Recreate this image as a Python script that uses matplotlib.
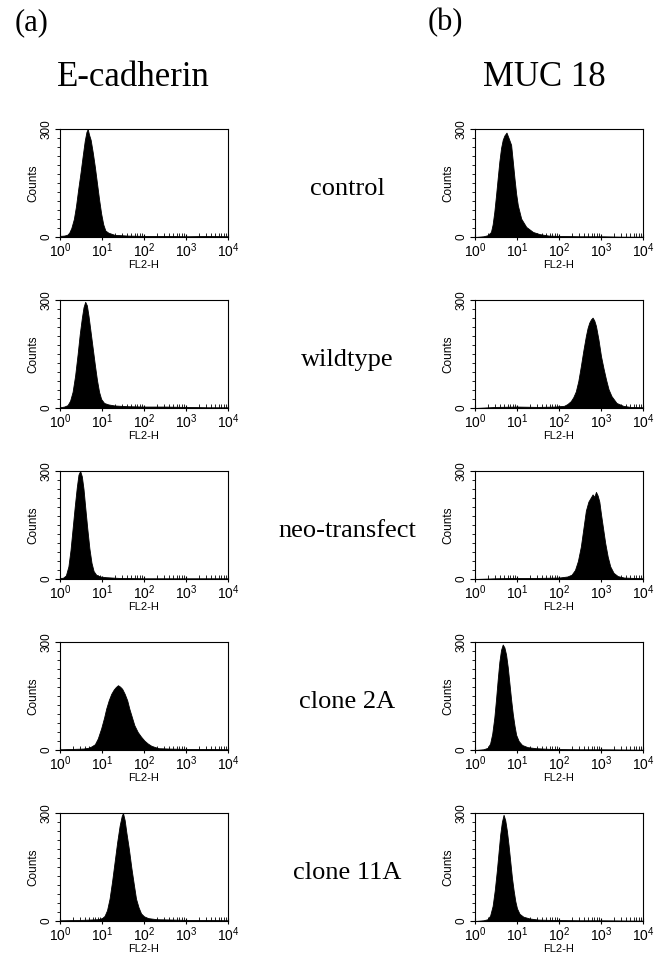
import numpy as np
import matplotlib
matplotlib.use("Agg")
import matplotlib.pyplot as plt
from matplotlib.ticker import FixedLocator, LogLocator, NullFormatter

plt.rcParams["font.family"] = ["Liberation Sans", "DejaVu Sans"]
plt.rcParams["mathtext.fontset"] = "custom"
plt.rcParams["mathtext.rm"] = "Liberation Sans"
plt.rcParams["mathtext.default"] = "regular"

SERIF = ["Liberation Serif", "DejaVu Serif"]

column_titles = ["E-cadherin", "MUC 18"]
column_tags = ["(a)", "(b)"]
row_labels = ["control", "wildtype", "neo-transfect", "clone 2A", "clone 11A"]
xtick_labels = ["10$^{0}$", "10$^{1}$", "10$^{2}$", "10$^{3}$", "10$^{4}$"]

# histogram outlines, x in decades of FL2-H, y in counts
# (a) E-cadherin
ecad_control_x = [0, 0.1, 0.17, 0.22, 0.27, 0.33, 0.38, 0.43, 0.49, 0.54, 0.59, 0.63, 0.66, 0.69,
                  0.73, 0.78, 0.83, 0.88, 0.93, 0.98, 1.03, 1.08, 1.15, 1.3, 1.6, 2.0, 2.5, 3.0, 3.5, 4.0]
ecad_control_y = [3, 4, 6, 12, 25, 50, 85, 130, 180, 225, 268, 292, 300, 285,
                  270, 235, 195, 150, 105, 65, 35, 18, 12, 6, 4, 3, 3, 2, 3, 2]

ecad_wild_x = [0, 0.1, 0.18, 0.24, 0.3, 0.36, 0.42, 0.47, 0.52, 0.56, 0.6, 0.64, 0.68, 0.73,
               0.78, 0.83, 0.88, 0.93, 0.98, 1.05, 1.15, 1.3, 1.6, 2.0, 2.5, 3.0, 3.5, 4.0]
ecad_wild_y = [2, 4, 8, 20, 45, 90, 150, 205, 250, 280, 295, 285, 255, 210,
               165, 120, 78, 45, 25, 14, 10, 7, 5, 4, 4, 3, 2, 2]

ecad_neo_x = [0, 0.08, 0.14, 0.2, 0.25, 0.3, 0.35, 0.4, 0.44, 0.48, 0.52, 0.56, 0.6, 0.65,
              0.7, 0.75, 0.8, 0.86, 0.95, 1.1, 1.4, 2.0, 2.5, 3.0, 3.5, 4.0]
ecad_neo_y = [2, 4, 10, 35, 80, 140, 200, 255, 290, 300, 285, 250, 200, 140,
              85, 45, 22, 12, 7, 5, 3, 2, 2, 2, 2, 2]

ecad_2a_x = [0, 0.3, 0.55, 0.67, 0.75, 0.83, 0.9, 0.98, 1.05, 1.1, 1.16, 1.22, 1.28, 1.33, 1.38,
             1.43, 1.48, 1.54, 1.6, 1.65, 1.71, 1.77, 1.85, 1.93, 2.01, 2.09, 2.17, 2.24, 2.35,
             2.6, 3.0, 3.5, 4.0]
ecad_2a_y = [2, 3, 4, 6, 10, 16, 32, 60, 90, 115, 138, 156, 168, 175, 180,
             176, 170, 156, 138, 115, 92, 69, 50, 37, 26, 18, 12, 9, 5,
             4, 3, 3, 2]

ecad_11a_x = [0, 0.5, 0.9, 1.0, 1.06, 1.12, 1.18, 1.24, 1.3, 1.36, 1.42, 1.47, 1.5, 1.54, 1.58,
              1.64, 1.7, 1.76, 1.81, 1.87, 1.93, 2.0, 2.1, 2.3, 2.7, 3.0, 3.5, 4.0]
ecad_11a_y = [2, 3, 5, 8, 14, 30, 62, 110, 164, 218, 265, 292, 300, 280, 246,
              200, 147, 100, 62, 38, 21, 13, 8, 5, 4, 3, 3, 2]

# (b) MUC 18
muc_control_x = [0, 0.2, 0.3, 0.38, 0.42, 0.46, 0.5, 0.54, 0.58, 0.62, 0.66, 0.7, 0.75, 0.8,
                 0.86, 0.9, 0.94, 0.98, 1.02, 1.1, 1.22, 1.38, 1.54, 1.75, 2.0, 2.5, 3.0, 3.5, 4.0]
muc_control_y = [0, 2, 5, 14, 35, 70, 115, 163, 210, 247, 270, 282, 290, 275,
                 256, 210, 163, 120, 88, 51, 28, 14, 8, 4, 3, 2, 2, 1, 1]

muc_wild_x = [0, 0.5, 1.0, 1.5, 1.9, 2.12, 2.2, 2.28, 2.34, 2.4, 2.46, 2.52, 2.58, 2.64, 2.68,
              2.72, 2.76, 2.8, 2.84, 2.88, 2.94, 3.0, 3.06, 3.12, 3.18, 3.25, 3.37, 3.53, 3.7, 4.0]
muc_wild_y = [0, 3, 4, 3, 4, 6, 11, 19, 30, 46, 75, 116, 160, 200, 222,
              237, 246, 251, 243, 228, 190, 144, 110, 79, 52, 33, 14, 6, 3, 2]

muc_neo_x = [0, 0.5, 1.0, 1.5, 2.0, 2.2, 2.3, 2.38, 2.45, 2.52, 2.58, 2.64, 2.7, 2.75,
             2.8, 2.84, 2.88, 2.92, 2.96, 3.0, 3.05, 3.1, 3.16, 3.22, 3.3, 3.4, 3.55, 4.0]
muc_neo_y = [0, 2, 3, 3, 4, 7, 12, 25, 50, 90, 140, 190, 215, 225,
             235, 228, 242, 232, 215, 180, 140, 100, 62, 35, 17, 8, 4, 2]

muc_2a_x = [0, 0.2, 0.3, 0.36, 0.41, 0.46, 0.5, 0.54, 0.58, 0.62, 0.66, 0.7, 0.74, 0.78,
            0.82, 0.86, 0.9, 0.94, 0.98, 1.04, 1.12, 1.25, 1.45, 1.8, 2.5, 3.0, 4.0]
muc_2a_y = [0, 2, 6, 18, 45, 90, 140, 195, 245, 278, 293, 285, 265, 230,
            185, 140, 100, 68, 42, 25, 14, 8, 5, 3, 2, 2, 1]

muc_11a_x = [0, 0.2, 0.3, 0.36, 0.42, 0.47, 0.52, 0.56, 0.6, 0.64, 0.68, 0.72, 0.76, 0.8,
             0.84, 0.88, 0.92, 0.96, 1.0, 1.06, 1.15, 1.3, 1.5, 1.8, 2.5, 3.0, 4.0]
muc_11a_y = [0, 2, 5, 15, 42, 85, 140, 190, 240, 275, 295, 280, 250, 210,
             165, 120, 85, 55, 35, 20, 12, 7, 4, 3, 2, 2, 1]

columns = [
    [(ecad_control_x, ecad_control_y), (ecad_wild_x, ecad_wild_y), (ecad_neo_x, ecad_neo_y),
     (ecad_2a_x, ecad_2a_y), (ecad_11a_x, ecad_11a_y)],
    [(muc_control_x, muc_control_y), (muc_wild_x, muc_wild_y), (muc_neo_x, muc_neo_y),
     (muc_2a_x, muc_2a_y), (muc_11a_x, muc_11a_y)],
]

W, H = 657, 955
fig = plt.figure(figsize=(W / 100, H / 100), dpi=100)

col_left = [60, 475]
panel_w, panel_h = 168, 108
row_bottom = [237, 408, 579, 750, 921]

for c, panels in enumerate(columns):
    for r, (xs, ys) in enumerate(panels):
        left = col_left[c] / W
        bottom = 1 - row_bottom[r] / H
        ax = fig.add_axes([left, bottom, panel_w / W, panel_h / H])
        fl2 = np.power(10.0, xs)
        ax.fill_between(fl2, 0, ys, color="black", linewidth=0.6, edgecolor="black")
        ax.set_xscale("log")
        ax.set_xlim(1, 1e4)
        ax.set_ylim(0, 300)
        ax.xaxis.set_major_locator(FixedLocator([1, 10, 100, 1000, 10000]))
        ax.set_xticklabels(xtick_labels)
        ax.xaxis.set_minor_locator(LogLocator(base=10, subs=np.arange(2, 10), numticks=20))
        ax.xaxis.set_minor_formatter(NullFormatter())
        ax.yaxis.set_major_locator(FixedLocator([0, 300]))
        ax.yaxis.set_minor_locator(FixedLocator(np.arange(25, 300, 25)))
        ax.tick_params(axis="x", which="major", direction="inout", length=5, width=0.8,
                       labelsize=10, pad=1)
        ax.tick_params(axis="x", which="minor", direction="in", length=3, width=0.6)
        ax.tick_params(axis="y", which="major", direction="out", length=3.5, width=0.8,
                       labelsize=8.5, pad=2)
        ax.tick_params(axis="y", which="minor", direction="out", length=2, width=0.6)
        for lab in ax.get_yticklabels():
            lab.set_rotation(90)
            lab.set_va("center")
        ax.set_xlabel("FL2-H", fontsize=8, labelpad=0)
        ax.set_ylabel("Counts", fontsize=8.5, labelpad=1)
        for sp in ax.spines.values():
            sp.set_linewidth(0.8)

# column headers
fig.text(32 / W, 1 - 23 / H, column_tags[0], fontsize=22, family=SERIF, ha="center", va="center")
fig.text(445 / W, 1 - 23 / H, column_tags[1], fontsize=22, family=SERIF, ha="center", va="center")
fig.text(133 / W, 1 - 86 / H, column_titles[0], fontsize=25, family=SERIF, ha="center", va="baseline")
fig.text(544 / W, 1 - 86 / H, column_titles[1], fontsize=25, family=SERIF, ha="center", va="baseline")

# row labels between the columns
for r, name in enumerate(row_labels):
    yc = row_bottom[r] - panel_h / 2 + 6
    fig.text(347 / W, 1 - yc / H, name, fontsize=19, family=SERIF, ha="center", va="center")

fig.savefig("out.png", dpi=100)
